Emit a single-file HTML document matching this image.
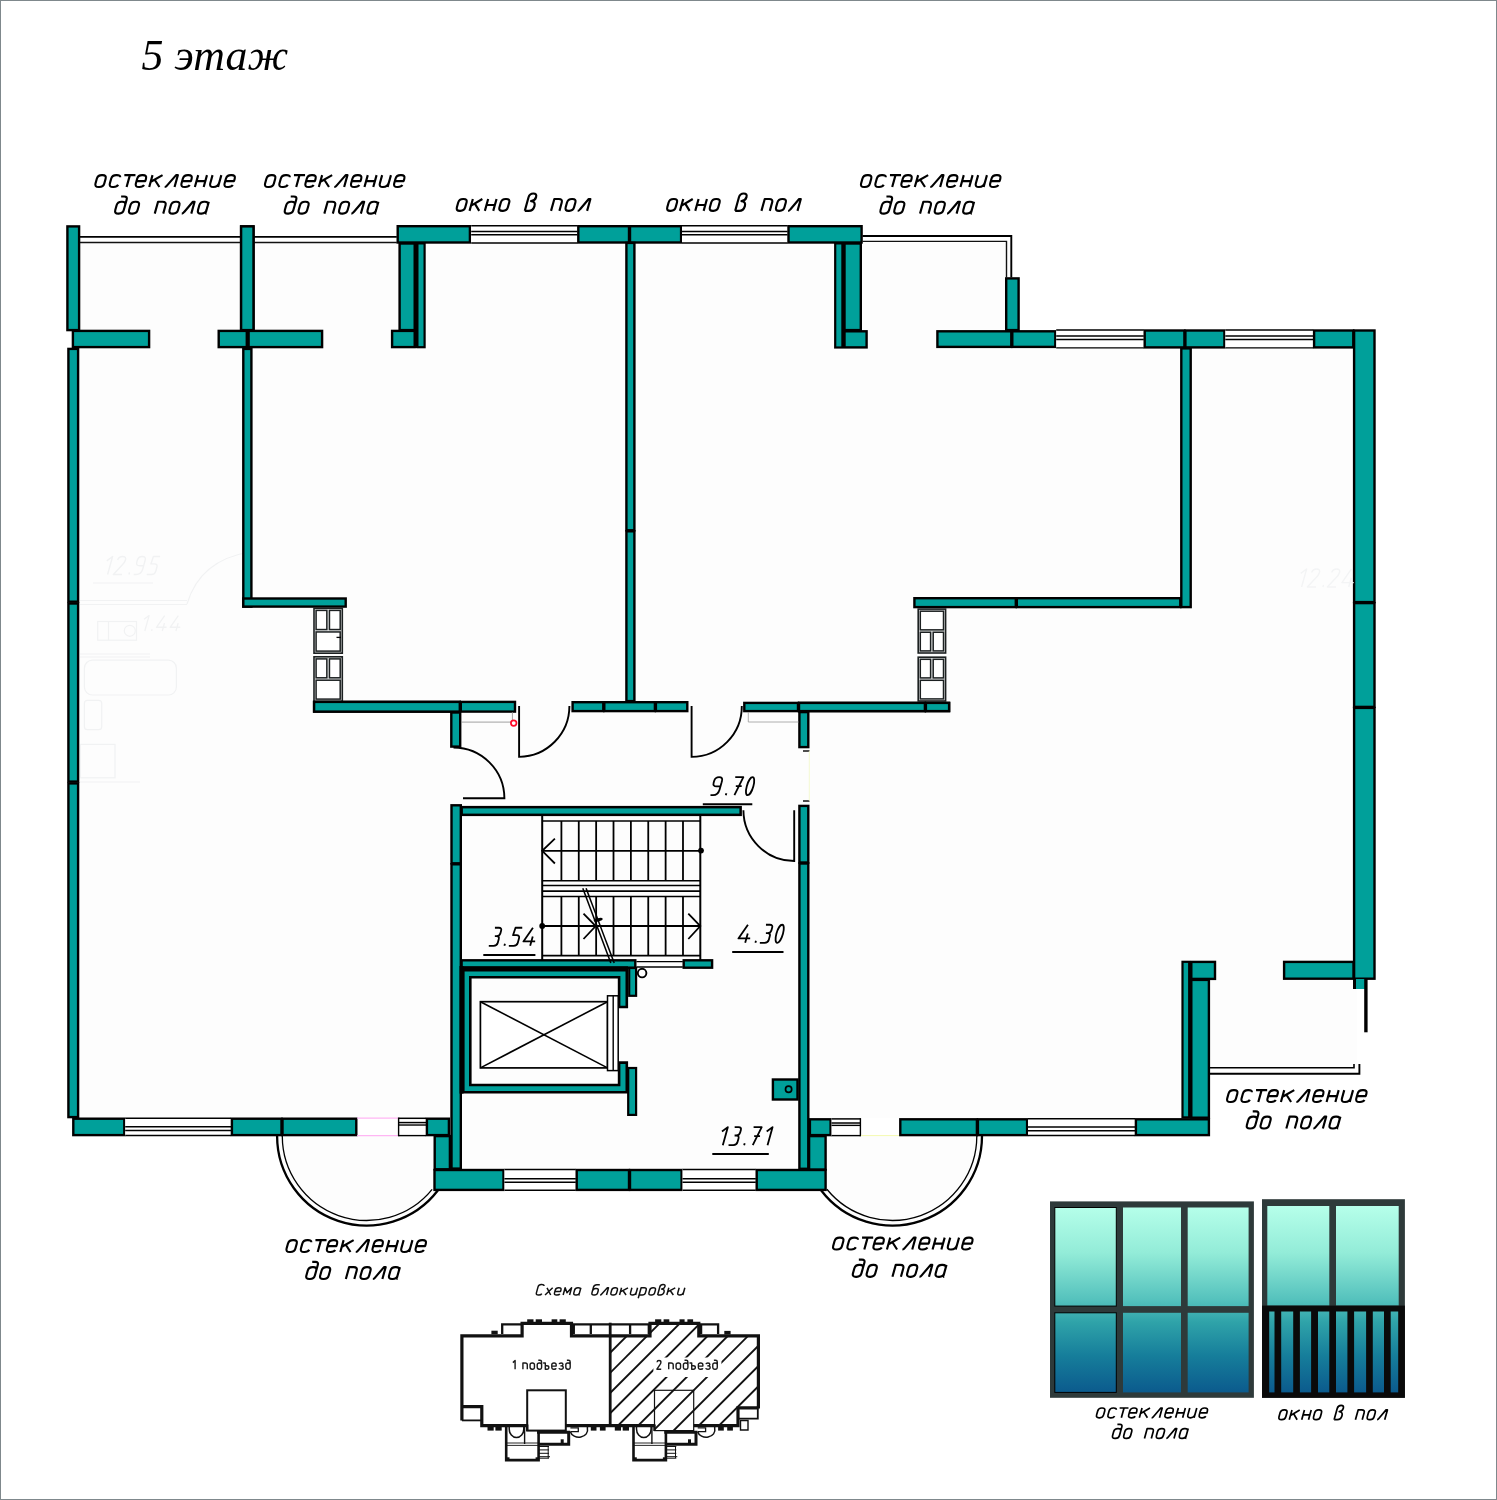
<!DOCTYPE html>
<html><head><meta charset="utf-8"><title>5 этаж</title>
<style>
html,body{margin:0;padding:0;background:#fff;}
body{width:1497px;height:1500px;overflow:hidden;font-family:"Liberation Sans",sans-serif;}
svg{display:block;}
</style></head><body>
<svg width="1497" height="1500" viewBox="0 0 1497 1500">
<rect x="0.5" y="0.5" width="1496" height="1499" fill="#fff" stroke="#7f888c" stroke-width="1"/>
<path d="M79 243 H1011 V331 H1354 V1070 H1210 V1118 H809 V1170 H450 V1118 H79 Z" fill="#fdfdfd"/>
<path d="M277 1136 A89.6 89.6 0 0 0 438 1190 V1136 Z" fill="#fdfdfd"/>
<path d="M982 1136 A89.6 89.6 0 0 1 821 1190 V1136 Z" fill="#fdfdfd"/>
<path d="M1210 1070 H1357 V980 H1210 Z" fill="#fdfdfd"/>
<g fill="none" stroke="#f1f2f3" stroke-width="1.2"><path d="M80 600.5 H187 M80 604.5 H187"/><rect x="97.7" y="621.5" width="38.8" height="18.7"/><circle cx="129.8" cy="630.8" r="5.5"/><path d="M108.5 621.5 V640.2"/><rect x="84.4" y="660.2" width="92" height="34.8" rx="8"/><rect x="84.4" y="700.3" width="17.3" height="29.4" rx="3"/><rect x="80.3" y="744.4" width="34.7" height="33.4"/><path d="M80 654 H150 M80 657 H150 M80 782 H140"/><path d="M187 604 Q200 560 250 552"/><path d="M93 583 H153"/></g>
<rect x="67.40" y="226.40" width="11.70" height="103.70" fill="#00a09a" stroke="#000" stroke-width="2.4"/>
<rect x="72.90" y="330.90" width="76.20" height="16.20" fill="#00a09a" stroke="#000" stroke-width="2.4"/>
<rect x="68.40" y="348.90" width="9.70" height="252.80" fill="#00a09a" stroke="#000" stroke-width="2.4"/>
<rect x="68.40" y="603.50" width="9.70" height="178.10" fill="#00a09a" stroke="#000" stroke-width="2.4"/>
<rect x="68.40" y="783.40" width="9.70" height="333.70" fill="#00a09a" stroke="#000" stroke-width="2.4"/>
<rect x="241.10" y="226.40" width="12.40" height="103.70" fill="#00a09a" stroke="#000" stroke-width="2.4"/>
<rect x="218.70" y="330.90" width="28.10" height="16.20" fill="#00a09a" stroke="#000" stroke-width="2.4"/>
<rect x="248.60" y="330.90" width="73.50" height="16.20" fill="#00a09a" stroke="#000" stroke-width="2.4"/>
<rect x="243.30" y="348.90" width="8.10" height="257.70" fill="#00a09a" stroke="#000" stroke-width="2.4"/>
<rect x="243.30" y="598.50" width="102.40" height="8.10" fill="#00a09a" stroke="#000" stroke-width="2.4"/>
<line x1="80.00" y1="236.80" x2="396.80" y2="236.80" stroke="#000" stroke-width="1.8" />
<line x1="80.00" y1="242.50" x2="396.80" y2="242.50" stroke="#111" stroke-width="1.4" />
<rect x="241.10" y="226.40" width="12.40" height="103.70" fill="#00a09a" stroke="#000" stroke-width="2.4"/>
<rect x="414" y="243" width="4" height="105" fill="#000"/>
<rect x="399.60" y="243.50" width="15.10" height="86.60" fill="#00a09a" stroke="#000" stroke-width="2.4"/>
<rect x="417.40" y="243.40" width="7.20" height="103.80" fill="#00a09a" stroke="#000" stroke-width="2.2"/>
<rect x="392.10" y="330.90" width="22.60" height="16.20" fill="#00a09a" stroke="#000" stroke-width="2.4"/>
<rect x="397.70" y="226.20" width="72.20" height="16.30" fill="#00a09a" stroke="#000" stroke-width="2.4"/>
<rect x="471.20" y="225.00" width="106.20" height="18.70" fill="#fff"/>
<line x1="471.20" y1="225.80" x2="577.40" y2="225.80" stroke="#000" stroke-width="1.5" />
<line x1="471.20" y1="231.55" x2="577.40" y2="231.55" stroke="#000" stroke-width="1.5" />
<line x1="471.20" y1="234.82" x2="577.40" y2="234.82" stroke="#000" stroke-width="1.4" />
<line x1="471.20" y1="243.00" x2="577.40" y2="243.00" stroke="#000" stroke-width="1.4" />
<rect x="578.30" y="226.20" width="50.70" height="16.30" fill="#00a09a" stroke="#000" stroke-width="2.4"/>
<rect x="630.00" y="226.20" width="51.10" height="16.30" fill="#00a09a" stroke="#000" stroke-width="2.4"/>
<rect x="682.00" y="225.00" width="105.60" height="18.70" fill="#fff"/>
<line x1="682.00" y1="225.80" x2="787.60" y2="225.80" stroke="#000" stroke-width="1.5" />
<line x1="682.00" y1="231.55" x2="787.60" y2="231.55" stroke="#000" stroke-width="1.5" />
<line x1="682.00" y1="234.82" x2="787.60" y2="234.82" stroke="#000" stroke-width="1.4" />
<line x1="682.00" y1="243.00" x2="787.60" y2="243.00" stroke="#000" stroke-width="1.4" />
<rect x="626.40" y="242.90" width="8.00" height="287.40" fill="#00a09a" stroke="#000" stroke-width="2.4"/>
<rect x="626.40" y="531.30" width="8.00" height="169.80" fill="#00a09a" stroke="#000" stroke-width="2.4"/>
<rect x="841" y="243" width="4" height="105" fill="#000"/>
<rect x="835.20" y="243.40" width="7.20" height="104.10" fill="#00a09a" stroke="#000" stroke-width="2.2"/>
<rect x="844.50" y="243.50" width="16.30" height="86.60" fill="#00a09a" stroke="#000" stroke-width="2.4"/>
<rect x="844.50" y="331.30" width="22.10" height="16.10" fill="#00a09a" stroke="#000" stroke-width="2.4"/>
<rect x="788.50" y="226.20" width="73.10" height="16.30" fill="#00a09a" stroke="#000" stroke-width="2.4"/>
<path d="M862.5 236 H1011.3 V277.5" fill="none" stroke="#000" stroke-width="1.9"/>
<path d="M862.5 241.4 H1006.5 V277.5" fill="none" stroke="#111" stroke-width="1.4"/>
<rect x="1006.20" y="278.40" width="12.40" height="51.70" fill="#00a09a" stroke="#000" stroke-width="2.4"/>
<rect x="937.40" y="331.30" width="73.90" height="15.60" fill="#00a09a" stroke="#000" stroke-width="2.4"/>
<rect x="1012.30" y="331.30" width="43.00" height="15.60" fill="#00a09a" stroke="#000" stroke-width="2.4"/>
<rect x="1056.20" y="329.30" width="87.60" height="19.30" fill="#fff"/>
<line x1="1056.20" y1="330.10" x2="1143.80" y2="330.10" stroke="#000" stroke-width="1.5" />
<line x1="1056.20" y1="336.06" x2="1143.80" y2="336.06" stroke="#000" stroke-width="1.5" />
<line x1="1056.20" y1="339.43" x2="1143.80" y2="339.43" stroke="#000" stroke-width="1.4" />
<line x1="1056.20" y1="347.90" x2="1143.80" y2="347.90" stroke="#000" stroke-width="1.4" />
<rect x="1144.70" y="330.50" width="39.70" height="16.90" fill="#00a09a" stroke="#000" stroke-width="2.4"/>
<rect x="1185.40" y="330.50" width="39.00" height="16.90" fill="#00a09a" stroke="#000" stroke-width="2.4"/>
<rect x="1225.30" y="329.30" width="87.90" height="19.30" fill="#fff"/>
<line x1="1225.30" y1="330.10" x2="1313.20" y2="330.10" stroke="#000" stroke-width="1.5" />
<line x1="1225.30" y1="336.06" x2="1313.20" y2="336.06" stroke="#000" stroke-width="1.5" />
<line x1="1225.30" y1="339.43" x2="1313.20" y2="339.43" stroke="#000" stroke-width="1.4" />
<line x1="1225.30" y1="347.90" x2="1313.20" y2="347.90" stroke="#000" stroke-width="1.4" />
<rect x="1314.10" y="330.50" width="39.20" height="16.90" fill="#00a09a" stroke="#000" stroke-width="2.4"/>
<rect x="1354.10" y="330.50" width="20.40" height="271.60" fill="#00a09a" stroke="#000" stroke-width="2.4"/>
<rect x="1354.10" y="603.10" width="20.40" height="103.80" fill="#00a09a" stroke="#000" stroke-width="2.4"/>
<rect x="1354.10" y="707.90" width="20.40" height="270.80" fill="#00a09a" stroke="#000" stroke-width="2.4"/>
<rect x="1181.30" y="348.40" width="9.40" height="258.70" fill="#00a09a" stroke="#000" stroke-width="2.4"/>
<rect x="914.40" y="598.20" width="101.40" height="8.90" fill="#00a09a" stroke="#000" stroke-width="2.4"/>
<rect x="1016.80" y="598.20" width="163.50" height="8.90" fill="#00a09a" stroke="#000" stroke-width="2.4"/>
<rect x="314.10" y="701.90" width="145.70" height="9.70" fill="#00a09a" stroke="#000" stroke-width="2.4"/>
<rect x="460.80" y="701.90" width="54.20" height="9.70" fill="#00a09a" stroke="#000" stroke-width="2.4"/>
<rect x="451.30" y="712.50" width="8.90" height="34.10" fill="#00a09a" stroke="#000" stroke-width="2.4"/>
<rect x="572.60" y="702.20" width="30.70" height="8.90" fill="#00a09a" stroke="#000" stroke-width="2.4"/>
<rect x="604.30" y="702.20" width="50.60" height="8.90" fill="#00a09a" stroke="#000" stroke-width="2.4"/>
<rect x="655.90" y="702.20" width="31.40" height="8.90" fill="#00a09a" stroke="#000" stroke-width="2.4"/>
<rect x="744.30" y="702.90" width="53.70" height="8.20" fill="#00a09a" stroke="#000" stroke-width="2.4"/>
<rect x="799.00" y="702.90" width="125.90" height="8.20" fill="#00a09a" stroke="#000" stroke-width="2.4"/>
<rect x="925.90" y="702.90" width="23.20" height="8.20" fill="#00a09a" stroke="#000" stroke-width="2.4"/>
<rect x="799.40" y="712.10" width="8.90" height="35.00" fill="#00a09a" stroke="#000" stroke-width="2.4"/>
<rect x="799.40" y="805.90" width="8.90" height="56.60" fill="#00a09a" stroke="#000" stroke-width="2.4"/>
<rect x="799.40" y="863.50" width="8.90" height="305.30" fill="#00a09a" stroke="#000" stroke-width="2.4"/>
<rect x="451.50" y="805.30" width="9.30" height="58.00" fill="#00a09a" stroke="#000" stroke-width="2.4"/>
<rect x="451.50" y="864.30" width="9.30" height="304.30" fill="#00a09a" stroke="#000" stroke-width="2.4"/>
<rect x="461.65" y="807.15" width="279.00" height="7.70" fill="#00a09a" stroke="#000" stroke-width="2.5"/>
<rect x="461.60" y="960.30" width="173.70" height="7.40" fill="#00a09a" stroke="#000" stroke-width="2.4"/>
<rect x="683.70" y="960.30" width="28.40" height="7.40" fill="#00a09a" stroke="#000" stroke-width="2.4"/>
<path d="M463.3 970.3 H626.8 V1007 H619.1 V977.2 H470.3 V1085 H619.1 V1062.6 H626.8 V1092.3 H463.3 Z" fill="#00a09a" stroke="#000" stroke-width="2.6" stroke-linejoin="miter"/>
<rect x="461" y="966.3" width="167" height="4.2" fill="#000"/>
<rect x="459.5" y="966" width="4" height="127.6" fill="#000"/>
<rect x="629.20" y="968.00" width="6.90" height="27.80" fill="#00a09a" stroke="#000" stroke-width="2.2"/>
<rect x="628.20" y="1068.00" width="7.90" height="46.90" fill="#00a09a" stroke="#000" stroke-width="2.2"/>
<rect x="480.40" y="1001.70" width="127.10" height="66.20" fill="#fff" stroke="#000" stroke-width="1.7"/>
<line x1="480.40" y1="1001.70" x2="607.50" y2="1067.90" stroke="#000" stroke-width="1.6" />
<line x1="480.40" y1="1067.90" x2="607.50" y2="1001.70" stroke="#000" stroke-width="1.6" />
<rect x="607.50" y="995.80" width="10.70" height="74.80" fill="#fff" stroke="#000" stroke-width="1.5"/>
<line x1="613.20" y1="995.80" x2="613.20" y2="1070.60" stroke="#000" stroke-width="1.4" />
<circle cx="642.1" cy="973.1" r="4.3" fill="#fff" stroke="#000" stroke-width="1.9"/>
<line x1="636.40" y1="961.60" x2="682.80" y2="961.60" stroke="#000" stroke-width="1.3" />
<line x1="636.40" y1="967.00" x2="682.80" y2="967.00" stroke="#000" stroke-width="1.3" />
<line x1="542.20" y1="816.00" x2="542.20" y2="960.00" stroke="#000" stroke-width="2.0" />
<line x1="700.30" y1="816.00" x2="700.30" y2="960.00" stroke="#000" stroke-width="2.0" />
<line x1="542.20" y1="821.00" x2="700.30" y2="821.00" stroke="#000" stroke-width="1.6" />
<line x1="542.20" y1="880.80" x2="700.30" y2="880.80" stroke="#000" stroke-width="1.6" />
<line x1="542.20" y1="885.50" x2="700.30" y2="885.50" stroke="#000" stroke-width="1.6" />
<line x1="542.20" y1="891.10" x2="700.30" y2="891.10" stroke="#000" stroke-width="1.6" />
<line x1="542.20" y1="896.50" x2="700.30" y2="896.50" stroke="#000" stroke-width="1.6" />
<line x1="542.20" y1="955.60" x2="700.30" y2="955.60" stroke="#000" stroke-width="1.6" />
<line x1="542.20" y1="850.80" x2="700.30" y2="850.80" stroke="#000" stroke-width="1.8" />
<line x1="542.20" y1="926.00" x2="700.30" y2="926.00" stroke="#000" stroke-width="1.8" />
<line x1="561.40" y1="821.00" x2="561.40" y2="880.80" stroke="#000" stroke-width="1.8" />
<line x1="561.40" y1="896.50" x2="561.40" y2="955.60" stroke="#000" stroke-width="1.8" />
<line x1="578.77" y1="821.00" x2="578.77" y2="880.80" stroke="#000" stroke-width="1.8" />
<line x1="578.77" y1="896.50" x2="578.77" y2="955.60" stroke="#000" stroke-width="1.8" />
<line x1="596.14" y1="821.00" x2="596.14" y2="880.80" stroke="#000" stroke-width="1.8" />
<line x1="596.14" y1="896.50" x2="596.14" y2="955.60" stroke="#000" stroke-width="1.8" />
<line x1="613.51" y1="821.00" x2="613.51" y2="880.80" stroke="#000" stroke-width="1.8" />
<line x1="613.51" y1="896.50" x2="613.51" y2="955.60" stroke="#000" stroke-width="1.8" />
<line x1="630.88" y1="821.00" x2="630.88" y2="880.80" stroke="#000" stroke-width="1.8" />
<line x1="630.88" y1="896.50" x2="630.88" y2="955.60" stroke="#000" stroke-width="1.8" />
<line x1="648.25" y1="821.00" x2="648.25" y2="880.80" stroke="#000" stroke-width="1.8" />
<line x1="648.25" y1="896.50" x2="648.25" y2="955.60" stroke="#000" stroke-width="1.8" />
<line x1="665.62" y1="821.00" x2="665.62" y2="880.80" stroke="#000" stroke-width="1.8" />
<line x1="665.62" y1="896.50" x2="665.62" y2="955.60" stroke="#000" stroke-width="1.8" />
<line x1="682.99" y1="821.00" x2="682.99" y2="880.80" stroke="#000" stroke-width="1.8" />
<line x1="682.99" y1="896.50" x2="682.99" y2="955.60" stroke="#000" stroke-width="1.8" />
<path d="M554.9 838.6 L542.2 850.8 L554.9 863.5" fill="none" stroke="#000" stroke-width="1.8"/>
<path d="M688.3 913.6 L700.3 926 L688.3 939" fill="none" stroke="#000" stroke-width="1.8"/>
<path d="M583.5 913.6 L595.7 926 L583.5 939" fill="none" stroke="#000" stroke-width="1.8"/>
<circle cx="542.2" cy="926" r="2.9" fill="#000"/>
<circle cx="701" cy="850.6" r="2.9" fill="#000"/>
<line x1="582.80" y1="888.20" x2="610.80" y2="963.00" stroke="#000" stroke-width="1.5" />
<line x1="586.10" y1="888.20" x2="614.20" y2="963.00" stroke="#000" stroke-width="1.5" />
<ellipse cx="598.2" cy="919.8" rx="4.6" ry="1.7" fill="#000" transform="rotate(-12 598.2 919.8)"/>
<path d="M519.1 706 V756.9 A50.9 50.9 0 0 0 569.4 706" fill="none" stroke="#000" stroke-width="1.9"/>
<path d="M691.6 706 V756.9 A50.5 50.5 0 0 0 741.8 706" fill="none" stroke="#000" stroke-width="1.9"/>
<path d="M463 798.3 H504.4 A51 51 0 0 0 453.5 747.5" fill="none" stroke="#000" stroke-width="1.9"/>
<path d="M794.2 810.3 V861 A51 51 0 0 1 743.4 810.3" fill="none" stroke="#000" stroke-width="1.9"/>
<path d="M461 722.1 H512.4 V712" fill="none" stroke="#8a8a8a" stroke-width="0.8"/>
<circle cx="513.7" cy="723.1" r="2.8" fill="#fff" stroke="#ff0a28" stroke-width="1.7"/>
<path d="M748.3 712 V722 H798.5" fill="none" stroke="#9a9a9a" stroke-width="0.8"/>
<line x1="803.00" y1="751.00" x2="809.50" y2="751.00" stroke="#000" stroke-width="1.4" />
<line x1="803.00" y1="801.00" x2="809.50" y2="801.00" stroke="#000" stroke-width="1.4" />
<line x1="809.30" y1="751.00" x2="809.30" y2="801.00" stroke="#f3f9c8" stroke-width="0.8" />
<rect x="314.00" y="608.30" width="28.30" height="44.90" fill="#e9ebeb" stroke="#1c2021" stroke-width="1.6"/>
<rect x="316.10" y="610.40" width="10.75" height="19.15" fill="#fff" stroke="#1c2021" stroke-width="1.5"/>
<rect x="329.45" y="610.40" width="10.75" height="19.15" fill="#fff" stroke="#1c2021" stroke-width="1.5"/>
<rect x="316.10" y="631.95" width="24.10" height="19.15" fill="#fff" stroke="#1c2021" stroke-width="1.5"/>
<rect x="314.00" y="656.80" width="28.30" height="44.40" fill="#e9ebeb" stroke="#1c2021" stroke-width="1.6"/>
<rect x="316.10" y="658.90" width="10.75" height="18.90" fill="#fff" stroke="#1c2021" stroke-width="1.5"/>
<rect x="329.45" y="658.90" width="10.75" height="18.90" fill="#fff" stroke="#1c2021" stroke-width="1.5"/>
<rect x="316.10" y="680.20" width="24.10" height="18.90" fill="#fff" stroke="#1c2021" stroke-width="1.5"/>
<line x1="336.50" y1="637.40" x2="341.00" y2="637.40" stroke="#000" stroke-width="1.3" />
<rect x="918.20" y="609.10" width="27.40" height="43.90" fill="#e9ebeb" stroke="#1c2021" stroke-width="1.6"/>
<rect x="920.30" y="611.20" width="23.20" height="18.65" fill="#fff" stroke="#1c2021" stroke-width="1.5"/>
<rect x="920.30" y="632.25" width="10.30" height="18.65" fill="#fff" stroke="#1c2021" stroke-width="1.5"/>
<rect x="933.20" y="632.25" width="10.30" height="18.65" fill="#fff" stroke="#1c2021" stroke-width="1.5"/>
<rect x="918.20" y="657.20" width="27.40" height="43.80" fill="#e9ebeb" stroke="#1c2021" stroke-width="1.6"/>
<rect x="920.30" y="659.30" width="10.30" height="18.60" fill="#fff" stroke="#1c2021" stroke-width="1.5"/>
<rect x="933.20" y="659.30" width="10.30" height="18.60" fill="#fff" stroke="#1c2021" stroke-width="1.5"/>
<rect x="920.30" y="680.30" width="23.20" height="18.60" fill="#fff" stroke="#1c2021" stroke-width="1.5"/>
<rect x="314.10" y="701.90" width="145.70" height="9.70" fill="#00a09a" stroke="#000" stroke-width="2.4"/>
<rect x="799.00" y="702.90" width="125.90" height="8.20" fill="#00a09a" stroke="#000" stroke-width="2.4"/>
<rect x="925.90" y="702.90" width="23.20" height="8.20" fill="#00a09a" stroke="#000" stroke-width="2.4"/>
<rect x="73.30" y="1118.70" width="51.00" height="16.40" fill="#00a09a" stroke="#000" stroke-width="2.4"/>
<rect x="125.20" y="1117.50" width="105.80" height="18.80" fill="#fff"/>
<line x1="125.20" y1="1135.50" x2="231.00" y2="1135.50" stroke="#000" stroke-width="1.5" />
<line x1="125.20" y1="1130.47" x2="231.00" y2="1130.47" stroke="#000" stroke-width="1.5" />
<line x1="125.20" y1="1126.71" x2="231.00" y2="1126.71" stroke="#000" stroke-width="1.4" />
<line x1="125.20" y1="1118.20" x2="231.00" y2="1118.20" stroke="#000" stroke-width="1.4" />
<rect x="231.90" y="1118.70" width="49.60" height="16.40" fill="#00a09a" stroke="#000" stroke-width="2.4"/>
<rect x="282.50" y="1118.70" width="73.80" height="16.40" fill="#00a09a" stroke="#000" stroke-width="2.4"/>
<line x1="357.20" y1="1118.20" x2="398.00" y2="1118.20" stroke="#ffb6f4" stroke-width="1.2" />
<line x1="357.20" y1="1135.60" x2="398.00" y2="1135.60" stroke="#ffb6f4" stroke-width="1.2" />
<rect x="398.60" y="1117.50" width="27.40" height="18.80" fill="#fff"/>
<line x1="398.60" y1="1118.30" x2="426.00" y2="1118.30" stroke="#000" stroke-width="1.5" />
<line x1="398.60" y1="1122.58" x2="426.00" y2="1122.58" stroke="#000" stroke-width="1.5" />
<line x1="398.60" y1="1125.02" x2="426.00" y2="1125.02" stroke="#000" stroke-width="1.4" />
<line x1="398.60" y1="1135.60" x2="426.00" y2="1135.60" stroke="#000" stroke-width="1.4" />
<line x1="398.60" y1="1117.50" x2="398.60" y2="1136.30" stroke="#000" stroke-width="1.4" />
<rect x="426.90" y="1118.70" width="22.00" height="16.40" fill="#00a09a" stroke="#000" stroke-width="2.4"/>
<rect x="434.70" y="1136.10" width="15.20" height="33.20" fill="#00a09a" stroke="#000" stroke-width="2.4"/>
<rect x="434.50" y="1170.00" width="69.00" height="19.90" fill="#00a09a" stroke="#000" stroke-width="2.4"/>
<rect x="504.40" y="1168.80" width="71.40" height="22.30" fill="#fff"/>
<line x1="504.40" y1="1190.30" x2="575.80" y2="1190.30" stroke="#000" stroke-width="1.5" />
<line x1="504.40" y1="1182.18" x2="575.80" y2="1182.18" stroke="#000" stroke-width="1.5" />
<line x1="504.40" y1="1178.70" x2="575.80" y2="1178.70" stroke="#000" stroke-width="1.4" />
<line x1="504.40" y1="1169.50" x2="575.80" y2="1169.50" stroke="#000" stroke-width="1.4" />
<rect x="576.70" y="1170.00" width="52.30" height="19.90" fill="#00a09a" stroke="#000" stroke-width="2.4"/>
<rect x="630.00" y="1170.00" width="51.60" height="19.90" fill="#00a09a" stroke="#000" stroke-width="2.4"/>
<rect x="682.50" y="1168.80" width="73.30" height="22.30" fill="#fff"/>
<line x1="682.50" y1="1190.30" x2="755.80" y2="1190.30" stroke="#000" stroke-width="1.5" />
<line x1="682.50" y1="1182.18" x2="755.80" y2="1182.18" stroke="#000" stroke-width="1.5" />
<line x1="682.50" y1="1178.70" x2="755.80" y2="1178.70" stroke="#000" stroke-width="1.4" />
<line x1="682.50" y1="1169.50" x2="755.80" y2="1169.50" stroke="#000" stroke-width="1.4" />
<rect x="756.70" y="1170.00" width="68.90" height="19.90" fill="#00a09a" stroke="#000" stroke-width="2.4"/>
<rect x="809.10" y="1136.10" width="16.50" height="33.40" fill="#00a09a" stroke="#000" stroke-width="2.4"/>
<rect x="809.90" y="1119.30" width="20.70" height="15.80" fill="#00a09a" stroke="#000" stroke-width="2.4"/>
<rect x="831.50" y="1118.10" width="28.90" height="18.20" fill="#fff"/>
<line x1="831.50" y1="1118.90" x2="860.40" y2="1118.90" stroke="#000" stroke-width="1.5" />
<line x1="831.50" y1="1123.01" x2="860.40" y2="1123.01" stroke="#000" stroke-width="1.5" />
<line x1="831.50" y1="1125.38" x2="860.40" y2="1125.38" stroke="#000" stroke-width="1.4" />
<line x1="831.50" y1="1135.60" x2="860.40" y2="1135.60" stroke="#000" stroke-width="1.4" />
<line x1="860.40" y1="1118.10" x2="860.40" y2="1136.30" stroke="#000" stroke-width="1.4" />
<line x1="861.00" y1="1135.60" x2="899.40" y2="1135.60" stroke="#f4fab0" stroke-width="1.0" />
<rect x="900.30" y="1119.30" width="76.60" height="15.80" fill="#00a09a" stroke="#000" stroke-width="2.4"/>
<rect x="977.90" y="1119.30" width="49.20" height="15.80" fill="#00a09a" stroke="#000" stroke-width="2.4"/>
<rect x="1028.00" y="1118.10" width="107.00" height="18.20" fill="#fff"/>
<line x1="1028.00" y1="1135.50" x2="1135.00" y2="1135.50" stroke="#000" stroke-width="1.5" />
<line x1="1028.00" y1="1130.66" x2="1135.00" y2="1130.66" stroke="#000" stroke-width="1.5" />
<line x1="1028.00" y1="1127.02" x2="1135.00" y2="1127.02" stroke="#000" stroke-width="1.4" />
<line x1="1028.00" y1="1118.80" x2="1135.00" y2="1118.80" stroke="#000" stroke-width="1.4" />
<rect x="1135.90" y="1119.30" width="73.00" height="15.80" fill="#00a09a" stroke="#000" stroke-width="2.4"/>
<rect x="772.90" y="1079.50" width="24.60" height="20.00" fill="#00a09a" stroke="#000" stroke-width="2.4"/>
<circle cx="788.6" cy="1089.2" r="3.1" fill="none" stroke="#000" stroke-width="1.7"/>
<rect x="1188" y="961" width="4" height="157" fill="#000"/>
<rect x="1182.50" y="961.80" width="6.70" height="155.60" fill="#00a09a" stroke="#000" stroke-width="2.2"/>
<rect x="1191.30" y="979.90" width="17.60" height="137.80" fill="#00a09a" stroke="#000" stroke-width="2.4"/>
<rect x="1191.30" y="961.90" width="23.70" height="17.00" fill="#00a09a" stroke="#000" stroke-width="2.4"/>
<rect x="1284.10" y="961.90" width="69.40" height="16.80" fill="#00a09a" stroke="#000" stroke-width="2.4"/>
<rect x="1354" y="979" width="11.5" height="10" fill="#00a09a"/>
<line x1="1365.90" y1="979.00" x2="1365.90" y2="1032.30" stroke="#000" stroke-width="3.4" />
<line x1="1354.50" y1="979.00" x2="1354.50" y2="989.00" stroke="#000" stroke-width="3.0" />
<path d="M1209.8 1073.7 H1359.4 V1064" fill="none" stroke="#000" stroke-width="1.9"/>
<path d="M1209.8 1067.8 H1354 V1064" fill="none" stroke="#000" stroke-width="1.6"/>
<path d="M277.10 1136.00 A89.6 89.6 0 0 0 437.96 1190.31" fill="none" stroke="#000" stroke-width="2.3"/>
<path d="M282.30 1136.00 A84.4 84.4 0 0 0 432.15 1189.29" fill="none" stroke="#000" stroke-width="1.3"/>
<path d="M982.00 1136.00 A89.6 89.6 0 0 1 821.07 1190.22" fill="none" stroke="#000" stroke-width="2.3"/>
<path d="M976.80 1136.00 A84.4 84.4 0 0 1 826.91 1189.24" fill="none" stroke="#000" stroke-width="1.3"/>
<g transform="translate(102.00 574.50) skewX(-15.5) scale(1.4000 1.2900)" fill="none" stroke="#f1f2f3" stroke-width="1.4" stroke-linejoin="round" stroke-linecap="butt"><path vector-effect="non-scaling-stroke" transform="translate(0.00 0)" d="M0.7 -10.6 L4 -14 V0"/><path vector-effect="non-scaling-stroke" transform="translate(8.10 0)" d="M0.2 -11.2 Q0.4 -14 3 -14 Q5.8 -14 5.8 -11.2 Q5.8 -9 4.2 -7 L0 0 H6.2"/><path vector-effect="non-scaling-stroke" transform="translate(17.64 0)" d="M1.6 -1.6 V0"/><path vector-effect="non-scaling-stroke" transform="translate(22.41 0)" d="M5.6 -9.4 V-11 Q5.6 -14 2.8 -14 Q0 -14 0 -11 V-9.6 Q0 -6.8 2.8 -6.8 H5.6 M5.6 -11 V-4.4 Q5.6 0 2 0 H0.2"/><path vector-effect="non-scaling-stroke" transform="translate(31.95 0)" d="M6 -14 H1.2 L0.9 -8.2 H3.4 Q5.8 -8.2 5.8 -5.8 V-2.4 Q5.8 0 3.4 0 H0"/></g>
<g transform="translate(140.00 631.00) skewX(-15.5) scale(1.2000 1.1000)" fill="none" stroke="#f1f2f3" stroke-width="1.3" stroke-linejoin="round" stroke-linecap="butt"><path vector-effect="non-scaling-stroke" transform="translate(0.00 0)" d="M0.7 -10.6 L4 -14 V0"/><path vector-effect="non-scaling-stroke" transform="translate(8.10 0)" d="M1.6 -1.6 V0"/><path vector-effect="non-scaling-stroke" transform="translate(12.87 0)" d="M4.1 -14 L0 -3.4 H8.4 M5.7 -7.2 V0"/><path vector-effect="non-scaling-stroke" transform="translate(24.27 0)" d="M4.1 -14 L0 -3.4 H8.4 M5.7 -7.2 V0"/></g>
<g transform="translate(1296.00 587.00) skewX(-15.5) scale(1.4000 1.2900)" fill="none" stroke="#f3f4f5" stroke-width="1.4" stroke-linejoin="round" stroke-linecap="butt"><path vector-effect="non-scaling-stroke" transform="translate(0.00 0)" d="M0.7 -10.6 L4 -14 V0"/><path vector-effect="non-scaling-stroke" transform="translate(8.10 0)" d="M0.2 -11.2 Q0.4 -14 3 -14 Q5.8 -14 5.8 -11.2 Q5.8 -9 4.2 -7 L0 0 H6.2"/><path vector-effect="non-scaling-stroke" transform="translate(17.64 0)" d="M1.6 -1.6 V0"/><path vector-effect="non-scaling-stroke" transform="translate(22.41 0)" d="M0.2 -11.2 Q0.4 -14 3 -14 Q5.8 -14 5.8 -11.2 Q5.8 -9 4.2 -7 L0 0 H6.2"/><path vector-effect="non-scaling-stroke" transform="translate(31.95 0)" d="M4.1 -14 L0 -3.4 H8.4 M5.7 -7.2 V0"/></g>
<defs><filter id="gray" x="-5%" y="-20%" width="110%" height="140%"><feColorMatrix type="saturate" values="0"/></filter></defs>
<g filter="url(#gray)">
<text x="141.60" y="69.80" font-family="'Liberation Serif', sans-serif" font-size="44.3" font-style="italic" font-weight="normal" text-anchor="start" fill="#000" textLength="146.6" lengthAdjust="spacingAndGlyphs" >5 этаж</text>
</g>
<g transform="translate(94.50 187.00) skewX(-15.5) scale(1.3546 1.1900)" fill="none" stroke="#000" stroke-width="2.15" stroke-linejoin="round" stroke-linecap="butt"><path vector-effect="non-scaling-stroke" transform="translate(0.00 0)" d="M0 -3 V-7 Q0 -10 3 -10 H3.5 Q6.5 -10 6.5 -7 V-3 Q6.5 0 3.5 0 H3 Q0 0 0 -3 Z"/><path vector-effect="non-scaling-stroke" transform="translate(10.60 0)" d="M6.4 -8.2 Q6 -10 3.5 -10 H3 Q0 -10 0 -7 V-3 Q0 0 3 0 H3.5 Q6 0 6.4 -1.8"/><path vector-effect="non-scaling-stroke" transform="translate(20.00 0)" d="M-0.4 -10 H7.8 M3.7 -10 V0"/><path vector-effect="non-scaling-stroke" transform="translate(29.80 0)" d="M0 -5 H6.5 V-7 Q6.5 -10 3.5 -10 H3 Q0 -10 0 -7 V-3 Q0 0 3 0 H3.5 Q6 0 6.4 -1.6"/><path vector-effect="non-scaling-stroke" transform="translate(40.40 0)" d="M0 -10 V0 M7.4 -10 L0.4 -4.6 M2.4 -6.3 L7.5 0"/><path vector-effect="non-scaling-stroke" transform="translate(52.30 0)" d="M-0.5 0 Q0.5 0 1 -1.4 L5.5 -10 H6.8 V0"/><path vector-effect="non-scaling-stroke" transform="translate(63.50 0)" d="M0 -5 H6.5 V-7 Q6.5 -10 3.5 -10 H3 Q0 -10 0 -7 V-3 Q0 0 3 0 H3.5 Q6 0 6.4 -1.6"/><path vector-effect="non-scaling-stroke" transform="translate(74.10 0)" d="M0 -10 V0 M0 -5 H6.5 M6.5 -10 V0"/><path vector-effect="non-scaling-stroke" transform="translate(84.70 0)" d="M0 -10 V-3 Q0 0 3 0 Q6.5 0 6.5 -4 M6.5 -10 V0"/><path vector-effect="non-scaling-stroke" transform="translate(95.30 0)" d="M0 -5 H6.5 V-7 Q6.5 -10 3.5 -10 H3 Q0 -10 0 -7 V-3 Q0 0 3 0 H3.5 Q6 0 6.4 -1.6"/></g>
<g transform="translate(114.30 213.60) skewX(-15.5) scale(1.3048 1.1900)" fill="none" stroke="#000" stroke-width="2.15" stroke-linejoin="round" stroke-linecap="butt"><path vector-effect="non-scaling-stroke" transform="translate(0.00 0)" d="M0 -3 V-7 Q0 -10 3 -10 H3.5 Q6.5 -10 6.5 -7 V-3 Q6.5 0 3.5 0 H3 Q0 0 0 -3 Z M6.5 -7 V-11.8 Q6.5 -14.4 4 -14.4 H1.6"/><path vector-effect="non-scaling-stroke" transform="translate(10.60 0)" d="M0 -3 V-7 Q0 -10 3 -10 H3.5 Q6.5 -10 6.5 -7 V-3 Q6.5 0 3.5 0 H3 Q0 0 0 -3 Z"/><path vector-effect="non-scaling-stroke" transform="translate(31.00 0)" d="M0 0 V-10 H3.5 Q6.5 -10 6.5 -7 V0"/><path vector-effect="non-scaling-stroke" transform="translate(41.60 0)" d="M0 -3 V-7 Q0 -10 3 -10 H3.5 Q6.5 -10 6.5 -7 V-3 Q6.5 0 3.5 0 H3 Q0 0 0 -3 Z"/><path vector-effect="non-scaling-stroke" transform="translate(52.20 0)" d="M-0.5 0 Q0.5 0 1 -1.4 L5.5 -10 H6.8 V0"/><path vector-effect="non-scaling-stroke" transform="translate(63.40 0)" d="M6.5 -7 Q6.5 -10 3.5 -10 H3 Q0 -10 0 -7 V-3 Q0 0 3 0 H3.5 Q6.5 0 6.5 -3 M6.5 -10 V-1.2 Q6.5 0 7.3 0"/></g>
<g transform="translate(264.10 187.00) skewX(-15.5) scale(1.3546 1.1900)" fill="none" stroke="#000" stroke-width="2.15" stroke-linejoin="round" stroke-linecap="butt"><path vector-effect="non-scaling-stroke" transform="translate(0.00 0)" d="M0 -3 V-7 Q0 -10 3 -10 H3.5 Q6.5 -10 6.5 -7 V-3 Q6.5 0 3.5 0 H3 Q0 0 0 -3 Z"/><path vector-effect="non-scaling-stroke" transform="translate(10.60 0)" d="M6.4 -8.2 Q6 -10 3.5 -10 H3 Q0 -10 0 -7 V-3 Q0 0 3 0 H3.5 Q6 0 6.4 -1.8"/><path vector-effect="non-scaling-stroke" transform="translate(20.00 0)" d="M-0.4 -10 H7.8 M3.7 -10 V0"/><path vector-effect="non-scaling-stroke" transform="translate(29.80 0)" d="M0 -5 H6.5 V-7 Q6.5 -10 3.5 -10 H3 Q0 -10 0 -7 V-3 Q0 0 3 0 H3.5 Q6 0 6.4 -1.6"/><path vector-effect="non-scaling-stroke" transform="translate(40.40 0)" d="M0 -10 V0 M7.4 -10 L0.4 -4.6 M2.4 -6.3 L7.5 0"/><path vector-effect="non-scaling-stroke" transform="translate(52.30 0)" d="M-0.5 0 Q0.5 0 1 -1.4 L5.5 -10 H6.8 V0"/><path vector-effect="non-scaling-stroke" transform="translate(63.50 0)" d="M0 -5 H6.5 V-7 Q6.5 -10 3.5 -10 H3 Q0 -10 0 -7 V-3 Q0 0 3 0 H3.5 Q6 0 6.4 -1.6"/><path vector-effect="non-scaling-stroke" transform="translate(74.10 0)" d="M0 -10 V0 M0 -5 H6.5 M6.5 -10 V0"/><path vector-effect="non-scaling-stroke" transform="translate(84.70 0)" d="M0 -10 V-3 Q0 0 3 0 Q6.5 0 6.5 -4 M6.5 -10 V0"/><path vector-effect="non-scaling-stroke" transform="translate(95.30 0)" d="M0 -5 H6.5 V-7 Q6.5 -10 3.5 -10 H3 Q0 -10 0 -7 V-3 Q0 0 3 0 H3.5 Q6 0 6.4 -1.6"/></g>
<g transform="translate(283.90 213.60) skewX(-15.5) scale(1.3048 1.1900)" fill="none" stroke="#000" stroke-width="2.15" stroke-linejoin="round" stroke-linecap="butt"><path vector-effect="non-scaling-stroke" transform="translate(0.00 0)" d="M0 -3 V-7 Q0 -10 3 -10 H3.5 Q6.5 -10 6.5 -7 V-3 Q6.5 0 3.5 0 H3 Q0 0 0 -3 Z M6.5 -7 V-11.8 Q6.5 -14.4 4 -14.4 H1.6"/><path vector-effect="non-scaling-stroke" transform="translate(10.60 0)" d="M0 -3 V-7 Q0 -10 3 -10 H3.5 Q6.5 -10 6.5 -7 V-3 Q6.5 0 3.5 0 H3 Q0 0 0 -3 Z"/><path vector-effect="non-scaling-stroke" transform="translate(31.00 0)" d="M0 0 V-10 H3.5 Q6.5 -10 6.5 -7 V0"/><path vector-effect="non-scaling-stroke" transform="translate(41.60 0)" d="M0 -3 V-7 Q0 -10 3 -10 H3.5 Q6.5 -10 6.5 -7 V-3 Q6.5 0 3.5 0 H3 Q0 0 0 -3 Z"/><path vector-effect="non-scaling-stroke" transform="translate(52.20 0)" d="M-0.5 0 Q0.5 0 1 -1.4 L5.5 -10 H6.8 V0"/><path vector-effect="non-scaling-stroke" transform="translate(63.40 0)" d="M6.5 -7 Q6.5 -10 3.5 -10 H3 Q0 -10 0 -7 V-3 Q0 0 3 0 H3.5 Q6.5 0 6.5 -3 M6.5 -10 V-1.2 Q6.5 0 7.3 0"/></g>
<g transform="translate(860.10 187.00) skewX(-15.5) scale(1.3546 1.1900)" fill="none" stroke="#000" stroke-width="2.15" stroke-linejoin="round" stroke-linecap="butt"><path vector-effect="non-scaling-stroke" transform="translate(0.00 0)" d="M0 -3 V-7 Q0 -10 3 -10 H3.5 Q6.5 -10 6.5 -7 V-3 Q6.5 0 3.5 0 H3 Q0 0 0 -3 Z"/><path vector-effect="non-scaling-stroke" transform="translate(10.60 0)" d="M6.4 -8.2 Q6 -10 3.5 -10 H3 Q0 -10 0 -7 V-3 Q0 0 3 0 H3.5 Q6 0 6.4 -1.8"/><path vector-effect="non-scaling-stroke" transform="translate(20.00 0)" d="M-0.4 -10 H7.8 M3.7 -10 V0"/><path vector-effect="non-scaling-stroke" transform="translate(29.80 0)" d="M0 -5 H6.5 V-7 Q6.5 -10 3.5 -10 H3 Q0 -10 0 -7 V-3 Q0 0 3 0 H3.5 Q6 0 6.4 -1.6"/><path vector-effect="non-scaling-stroke" transform="translate(40.40 0)" d="M0 -10 V0 M7.4 -10 L0.4 -4.6 M2.4 -6.3 L7.5 0"/><path vector-effect="non-scaling-stroke" transform="translate(52.30 0)" d="M-0.5 0 Q0.5 0 1 -1.4 L5.5 -10 H6.8 V0"/><path vector-effect="non-scaling-stroke" transform="translate(63.50 0)" d="M0 -5 H6.5 V-7 Q6.5 -10 3.5 -10 H3 Q0 -10 0 -7 V-3 Q0 0 3 0 H3.5 Q6 0 6.4 -1.6"/><path vector-effect="non-scaling-stroke" transform="translate(74.10 0)" d="M0 -10 V0 M0 -5 H6.5 M6.5 -10 V0"/><path vector-effect="non-scaling-stroke" transform="translate(84.70 0)" d="M0 -10 V-3 Q0 0 3 0 Q6.5 0 6.5 -4 M6.5 -10 V0"/><path vector-effect="non-scaling-stroke" transform="translate(95.30 0)" d="M0 -5 H6.5 V-7 Q6.5 -10 3.5 -10 H3 Q0 -10 0 -7 V-3 Q0 0 3 0 H3.5 Q6 0 6.4 -1.6"/></g>
<g transform="translate(879.60 213.60) skewX(-15.5) scale(1.3048 1.1900)" fill="none" stroke="#000" stroke-width="2.15" stroke-linejoin="round" stroke-linecap="butt"><path vector-effect="non-scaling-stroke" transform="translate(0.00 0)" d="M0 -3 V-7 Q0 -10 3 -10 H3.5 Q6.5 -10 6.5 -7 V-3 Q6.5 0 3.5 0 H3 Q0 0 0 -3 Z M6.5 -7 V-11.8 Q6.5 -14.4 4 -14.4 H1.6"/><path vector-effect="non-scaling-stroke" transform="translate(10.60 0)" d="M0 -3 V-7 Q0 -10 3 -10 H3.5 Q6.5 -10 6.5 -7 V-3 Q6.5 0 3.5 0 H3 Q0 0 0 -3 Z"/><path vector-effect="non-scaling-stroke" transform="translate(31.00 0)" d="M0 0 V-10 H3.5 Q6.5 -10 6.5 -7 V0"/><path vector-effect="non-scaling-stroke" transform="translate(41.60 0)" d="M0 -3 V-7 Q0 -10 3 -10 H3.5 Q6.5 -10 6.5 -7 V-3 Q6.5 0 3.5 0 H3 Q0 0 0 -3 Z"/><path vector-effect="non-scaling-stroke" transform="translate(52.20 0)" d="M-0.5 0 Q0.5 0 1 -1.4 L5.5 -10 H6.8 V0"/><path vector-effect="non-scaling-stroke" transform="translate(63.40 0)" d="M6.5 -7 Q6.5 -10 3.5 -10 H3 Q0 -10 0 -7 V-3 Q0 0 3 0 H3.5 Q6.5 0 6.5 -3 M6.5 -10 V-1.2 Q6.5 0 7.3 0"/></g>
<g transform="translate(285.60 1252.00) skewX(-15.5) scale(1.3546 1.1900)" fill="none" stroke="#000" stroke-width="2.15" stroke-linejoin="round" stroke-linecap="butt"><path vector-effect="non-scaling-stroke" transform="translate(0.00 0)" d="M0 -3 V-7 Q0 -10 3 -10 H3.5 Q6.5 -10 6.5 -7 V-3 Q6.5 0 3.5 0 H3 Q0 0 0 -3 Z"/><path vector-effect="non-scaling-stroke" transform="translate(10.60 0)" d="M6.4 -8.2 Q6 -10 3.5 -10 H3 Q0 -10 0 -7 V-3 Q0 0 3 0 H3.5 Q6 0 6.4 -1.8"/><path vector-effect="non-scaling-stroke" transform="translate(20.00 0)" d="M-0.4 -10 H7.8 M3.7 -10 V0"/><path vector-effect="non-scaling-stroke" transform="translate(29.80 0)" d="M0 -5 H6.5 V-7 Q6.5 -10 3.5 -10 H3 Q0 -10 0 -7 V-3 Q0 0 3 0 H3.5 Q6 0 6.4 -1.6"/><path vector-effect="non-scaling-stroke" transform="translate(40.40 0)" d="M0 -10 V0 M7.4 -10 L0.4 -4.6 M2.4 -6.3 L7.5 0"/><path vector-effect="non-scaling-stroke" transform="translate(52.30 0)" d="M-0.5 0 Q0.5 0 1 -1.4 L5.5 -10 H6.8 V0"/><path vector-effect="non-scaling-stroke" transform="translate(63.50 0)" d="M0 -5 H6.5 V-7 Q6.5 -10 3.5 -10 H3 Q0 -10 0 -7 V-3 Q0 0 3 0 H3.5 Q6 0 6.4 -1.6"/><path vector-effect="non-scaling-stroke" transform="translate(74.10 0)" d="M0 -10 V0 M0 -5 H6.5 M6.5 -10 V0"/><path vector-effect="non-scaling-stroke" transform="translate(84.70 0)" d="M0 -10 V-3 Q0 0 3 0 Q6.5 0 6.5 -4 M6.5 -10 V0"/><path vector-effect="non-scaling-stroke" transform="translate(95.30 0)" d="M0 -5 H6.5 V-7 Q6.5 -10 3.5 -10 H3 Q0 -10 0 -7 V-3 Q0 0 3 0 H3.5 Q6 0 6.4 -1.6"/></g>
<g transform="translate(305.40 1279.00) skewX(-15.5) scale(1.3048 1.1900)" fill="none" stroke="#000" stroke-width="2.15" stroke-linejoin="round" stroke-linecap="butt"><path vector-effect="non-scaling-stroke" transform="translate(0.00 0)" d="M0 -3 V-7 Q0 -10 3 -10 H3.5 Q6.5 -10 6.5 -7 V-3 Q6.5 0 3.5 0 H3 Q0 0 0 -3 Z M6.5 -7 V-11.8 Q6.5 -14.4 4 -14.4 H1.6"/><path vector-effect="non-scaling-stroke" transform="translate(10.60 0)" d="M0 -3 V-7 Q0 -10 3 -10 H3.5 Q6.5 -10 6.5 -7 V-3 Q6.5 0 3.5 0 H3 Q0 0 0 -3 Z"/><path vector-effect="non-scaling-stroke" transform="translate(31.00 0)" d="M0 0 V-10 H3.5 Q6.5 -10 6.5 -7 V0"/><path vector-effect="non-scaling-stroke" transform="translate(41.60 0)" d="M0 -3 V-7 Q0 -10 3 -10 H3.5 Q6.5 -10 6.5 -7 V-3 Q6.5 0 3.5 0 H3 Q0 0 0 -3 Z"/><path vector-effect="non-scaling-stroke" transform="translate(52.20 0)" d="M-0.5 0 Q0.5 0 1 -1.4 L5.5 -10 H6.8 V0"/><path vector-effect="non-scaling-stroke" transform="translate(63.40 0)" d="M6.5 -7 Q6.5 -10 3.5 -10 H3 Q0 -10 0 -7 V-3 Q0 0 3 0 H3.5 Q6.5 0 6.5 -3 M6.5 -10 V-1.2 Q6.5 0 7.3 0"/></g>
<g transform="translate(832.20 1249.50) skewX(-15.5) scale(1.3546 1.1900)" fill="none" stroke="#000" stroke-width="2.15" stroke-linejoin="round" stroke-linecap="butt"><path vector-effect="non-scaling-stroke" transform="translate(0.00 0)" d="M0 -3 V-7 Q0 -10 3 -10 H3.5 Q6.5 -10 6.5 -7 V-3 Q6.5 0 3.5 0 H3 Q0 0 0 -3 Z"/><path vector-effect="non-scaling-stroke" transform="translate(10.60 0)" d="M6.4 -8.2 Q6 -10 3.5 -10 H3 Q0 -10 0 -7 V-3 Q0 0 3 0 H3.5 Q6 0 6.4 -1.8"/><path vector-effect="non-scaling-stroke" transform="translate(20.00 0)" d="M-0.4 -10 H7.8 M3.7 -10 V0"/><path vector-effect="non-scaling-stroke" transform="translate(29.80 0)" d="M0 -5 H6.5 V-7 Q6.5 -10 3.5 -10 H3 Q0 -10 0 -7 V-3 Q0 0 3 0 H3.5 Q6 0 6.4 -1.6"/><path vector-effect="non-scaling-stroke" transform="translate(40.40 0)" d="M0 -10 V0 M7.4 -10 L0.4 -4.6 M2.4 -6.3 L7.5 0"/><path vector-effect="non-scaling-stroke" transform="translate(52.30 0)" d="M-0.5 0 Q0.5 0 1 -1.4 L5.5 -10 H6.8 V0"/><path vector-effect="non-scaling-stroke" transform="translate(63.50 0)" d="M0 -5 H6.5 V-7 Q6.5 -10 3.5 -10 H3 Q0 -10 0 -7 V-3 Q0 0 3 0 H3.5 Q6 0 6.4 -1.6"/><path vector-effect="non-scaling-stroke" transform="translate(74.10 0)" d="M0 -10 V0 M0 -5 H6.5 M6.5 -10 V0"/><path vector-effect="non-scaling-stroke" transform="translate(84.70 0)" d="M0 -10 V-3 Q0 0 3 0 Q6.5 0 6.5 -4 M6.5 -10 V0"/><path vector-effect="non-scaling-stroke" transform="translate(95.30 0)" d="M0 -5 H6.5 V-7 Q6.5 -10 3.5 -10 H3 Q0 -10 0 -7 V-3 Q0 0 3 0 H3.5 Q6 0 6.4 -1.6"/></g>
<g transform="translate(852.00 1276.80) skewX(-15.5) scale(1.3048 1.1900)" fill="none" stroke="#000" stroke-width="2.15" stroke-linejoin="round" stroke-linecap="butt"><path vector-effect="non-scaling-stroke" transform="translate(0.00 0)" d="M0 -3 V-7 Q0 -10 3 -10 H3.5 Q6.5 -10 6.5 -7 V-3 Q6.5 0 3.5 0 H3 Q0 0 0 -3 Z M6.5 -7 V-11.8 Q6.5 -14.4 4 -14.4 H1.6"/><path vector-effect="non-scaling-stroke" transform="translate(10.60 0)" d="M0 -3 V-7 Q0 -10 3 -10 H3.5 Q6.5 -10 6.5 -7 V-3 Q6.5 0 3.5 0 H3 Q0 0 0 -3 Z"/><path vector-effect="non-scaling-stroke" transform="translate(31.00 0)" d="M0 0 V-10 H3.5 Q6.5 -10 6.5 -7 V0"/><path vector-effect="non-scaling-stroke" transform="translate(41.60 0)" d="M0 -3 V-7 Q0 -10 3 -10 H3.5 Q6.5 -10 6.5 -7 V-3 Q6.5 0 3.5 0 H3 Q0 0 0 -3 Z"/><path vector-effect="non-scaling-stroke" transform="translate(52.20 0)" d="M-0.5 0 Q0.5 0 1 -1.4 L5.5 -10 H6.8 V0"/><path vector-effect="non-scaling-stroke" transform="translate(63.40 0)" d="M6.5 -7 Q6.5 -10 3.5 -10 H3 Q0 -10 0 -7 V-3 Q0 0 3 0 H3.5 Q6.5 0 6.5 -3 M6.5 -10 V-1.2 Q6.5 0 7.3 0"/></g>
<g transform="translate(1226.20 1102.00) skewX(-15.5) scale(1.3546 1.1900)" fill="none" stroke="#000" stroke-width="2.15" stroke-linejoin="round" stroke-linecap="butt"><path vector-effect="non-scaling-stroke" transform="translate(0.00 0)" d="M0 -3 V-7 Q0 -10 3 -10 H3.5 Q6.5 -10 6.5 -7 V-3 Q6.5 0 3.5 0 H3 Q0 0 0 -3 Z"/><path vector-effect="non-scaling-stroke" transform="translate(10.60 0)" d="M6.4 -8.2 Q6 -10 3.5 -10 H3 Q0 -10 0 -7 V-3 Q0 0 3 0 H3.5 Q6 0 6.4 -1.8"/><path vector-effect="non-scaling-stroke" transform="translate(20.00 0)" d="M-0.4 -10 H7.8 M3.7 -10 V0"/><path vector-effect="non-scaling-stroke" transform="translate(29.80 0)" d="M0 -5 H6.5 V-7 Q6.5 -10 3.5 -10 H3 Q0 -10 0 -7 V-3 Q0 0 3 0 H3.5 Q6 0 6.4 -1.6"/><path vector-effect="non-scaling-stroke" transform="translate(40.40 0)" d="M0 -10 V0 M7.4 -10 L0.4 -4.6 M2.4 -6.3 L7.5 0"/><path vector-effect="non-scaling-stroke" transform="translate(52.30 0)" d="M-0.5 0 Q0.5 0 1 -1.4 L5.5 -10 H6.8 V0"/><path vector-effect="non-scaling-stroke" transform="translate(63.50 0)" d="M0 -5 H6.5 V-7 Q6.5 -10 3.5 -10 H3 Q0 -10 0 -7 V-3 Q0 0 3 0 H3.5 Q6 0 6.4 -1.6"/><path vector-effect="non-scaling-stroke" transform="translate(74.10 0)" d="M0 -10 V0 M0 -5 H6.5 M6.5 -10 V0"/><path vector-effect="non-scaling-stroke" transform="translate(84.70 0)" d="M0 -10 V-3 Q0 0 3 0 Q6.5 0 6.5 -4 M6.5 -10 V0"/><path vector-effect="non-scaling-stroke" transform="translate(95.30 0)" d="M0 -5 H6.5 V-7 Q6.5 -10 3.5 -10 H3 Q0 -10 0 -7 V-3 Q0 0 3 0 H3.5 Q6 0 6.4 -1.6"/></g>
<g transform="translate(1245.90 1128.50) skewX(-15.5) scale(1.3048 1.1900)" fill="none" stroke="#000" stroke-width="2.15" stroke-linejoin="round" stroke-linecap="butt"><path vector-effect="non-scaling-stroke" transform="translate(0.00 0)" d="M0 -3 V-7 Q0 -10 3 -10 H3.5 Q6.5 -10 6.5 -7 V-3 Q6.5 0 3.5 0 H3 Q0 0 0 -3 Z M6.5 -7 V-11.8 Q6.5 -14.4 4 -14.4 H1.6"/><path vector-effect="non-scaling-stroke" transform="translate(10.60 0)" d="M0 -3 V-7 Q0 -10 3 -10 H3.5 Q6.5 -10 6.5 -7 V-3 Q6.5 0 3.5 0 H3 Q0 0 0 -3 Z"/><path vector-effect="non-scaling-stroke" transform="translate(31.00 0)" d="M0 0 V-10 H3.5 Q6.5 -10 6.5 -7 V0"/><path vector-effect="non-scaling-stroke" transform="translate(41.60 0)" d="M0 -3 V-7 Q0 -10 3 -10 H3.5 Q6.5 -10 6.5 -7 V-3 Q6.5 0 3.5 0 H3 Q0 0 0 -3 Z"/><path vector-effect="non-scaling-stroke" transform="translate(52.20 0)" d="M-0.5 0 Q0.5 0 1 -1.4 L5.5 -10 H6.8 V0"/><path vector-effect="non-scaling-stroke" transform="translate(63.40 0)" d="M6.5 -7 Q6.5 -10 3.5 -10 H3 Q0 -10 0 -7 V-3 Q0 0 3 0 H3.5 Q6.5 0 6.5 -3 M6.5 -10 V-1.2 Q6.5 0 7.3 0"/></g>
<g transform="translate(455.90 210.90) skewX(-15.5) scale(1.2875 1.1900)" fill="none" stroke="#000" stroke-width="2.15" stroke-linejoin="round" stroke-linecap="butt"><path vector-effect="non-scaling-stroke" transform="translate(0.00 0)" d="M0 -3 V-7 Q0 -10 3 -10 H3.5 Q6.5 -10 6.5 -7 V-3 Q6.5 0 3.5 0 H3 Q0 0 0 -3 Z"/><path vector-effect="non-scaling-stroke" transform="translate(10.60 0)" d="M0 -10 V0 M7.4 -10 L0.4 -4.6 M2.4 -6.3 L7.5 0"/><path vector-effect="non-scaling-stroke" transform="translate(22.50 0)" d="M0 -10 V0 M0 -5 H6.5 M6.5 -10 V0"/><path vector-effect="non-scaling-stroke" transform="translate(33.10 0)" d="M0 -3 V-7 Q0 -10 3 -10 H3.5 Q6.5 -10 6.5 -7 V-3 Q6.5 0 3.5 0 H3 Q0 0 0 -3 Z"/><path vector-effect="non-scaling-stroke" transform="translate(53.50 0)" d="M0 0 V-11.4 Q0 -14.6 2.9 -14.6 Q5.8 -14.6 5.8 -11.6 Q5.8 -8.6 2.8 -8.2 Q6.5 -7.8 6.5 -4 Q6.5 0 3 0 H0"/><path vector-effect="non-scaling-stroke" transform="translate(73.90 0)" d="M0 0 V-10 H3.5 Q6.5 -10 6.5 -7 V0"/><path vector-effect="non-scaling-stroke" transform="translate(84.50 0)" d="M0 -3 V-7 Q0 -10 3 -10 H3.5 Q6.5 -10 6.5 -7 V-3 Q6.5 0 3.5 0 H3 Q0 0 0 -3 Z"/><path vector-effect="non-scaling-stroke" transform="translate(95.10 0)" d="M-0.5 0 Q0.5 0 1 -1.4 L5.5 -10 H6.8 V0"/></g>
<g transform="translate(666.30 210.90) skewX(-15.5) scale(1.2875 1.1900)" fill="none" stroke="#000" stroke-width="2.15" stroke-linejoin="round" stroke-linecap="butt"><path vector-effect="non-scaling-stroke" transform="translate(0.00 0)" d="M0 -3 V-7 Q0 -10 3 -10 H3.5 Q6.5 -10 6.5 -7 V-3 Q6.5 0 3.5 0 H3 Q0 0 0 -3 Z"/><path vector-effect="non-scaling-stroke" transform="translate(10.60 0)" d="M0 -10 V0 M7.4 -10 L0.4 -4.6 M2.4 -6.3 L7.5 0"/><path vector-effect="non-scaling-stroke" transform="translate(22.50 0)" d="M0 -10 V0 M0 -5 H6.5 M6.5 -10 V0"/><path vector-effect="non-scaling-stroke" transform="translate(33.10 0)" d="M0 -3 V-7 Q0 -10 3 -10 H3.5 Q6.5 -10 6.5 -7 V-3 Q6.5 0 3.5 0 H3 Q0 0 0 -3 Z"/><path vector-effect="non-scaling-stroke" transform="translate(53.50 0)" d="M0 0 V-11.4 Q0 -14.6 2.9 -14.6 Q5.8 -14.6 5.8 -11.6 Q5.8 -8.6 2.8 -8.2 Q6.5 -7.8 6.5 -4 Q6.5 0 3 0 H0"/><path vector-effect="non-scaling-stroke" transform="translate(73.90 0)" d="M0 0 V-10 H3.5 Q6.5 -10 6.5 -7 V0"/><path vector-effect="non-scaling-stroke" transform="translate(84.50 0)" d="M0 -3 V-7 Q0 -10 3 -10 H3.5 Q6.5 -10 6.5 -7 V-3 Q6.5 0 3.5 0 H3 Q0 0 0 -3 Z"/><path vector-effect="non-scaling-stroke" transform="translate(95.10 0)" d="M-0.5 0 Q0.5 0 1 -1.4 L5.5 -10 H6.8 V0"/></g>
<g transform="translate(1095.80 1417.80) skewX(-15.5) scale(1.0774 0.9800)" fill="none" stroke="#000" stroke-width="1.7" stroke-linejoin="round" stroke-linecap="butt"><path vector-effect="non-scaling-stroke" transform="translate(0.00 0)" d="M0 -3 V-7 Q0 -10 3 -10 H3.5 Q6.5 -10 6.5 -7 V-3 Q6.5 0 3.5 0 H3 Q0 0 0 -3 Z"/><path vector-effect="non-scaling-stroke" transform="translate(10.60 0)" d="M6.4 -8.2 Q6 -10 3.5 -10 H3 Q0 -10 0 -7 V-3 Q0 0 3 0 H3.5 Q6 0 6.4 -1.8"/><path vector-effect="non-scaling-stroke" transform="translate(20.00 0)" d="M-0.4 -10 H7.8 M3.7 -10 V0"/><path vector-effect="non-scaling-stroke" transform="translate(29.80 0)" d="M0 -5 H6.5 V-7 Q6.5 -10 3.5 -10 H3 Q0 -10 0 -7 V-3 Q0 0 3 0 H3.5 Q6 0 6.4 -1.6"/><path vector-effect="non-scaling-stroke" transform="translate(40.40 0)" d="M0 -10 V0 M7.4 -10 L0.4 -4.6 M2.4 -6.3 L7.5 0"/><path vector-effect="non-scaling-stroke" transform="translate(52.30 0)" d="M-0.5 0 Q0.5 0 1 -1.4 L5.5 -10 H6.8 V0"/><path vector-effect="non-scaling-stroke" transform="translate(63.50 0)" d="M0 -5 H6.5 V-7 Q6.5 -10 3.5 -10 H3 Q0 -10 0 -7 V-3 Q0 0 3 0 H3.5 Q6 0 6.4 -1.6"/><path vector-effect="non-scaling-stroke" transform="translate(74.10 0)" d="M0 -10 V0 M0 -5 H6.5 M6.5 -10 V0"/><path vector-effect="non-scaling-stroke" transform="translate(84.70 0)" d="M0 -10 V-3 Q0 0 3 0 Q6.5 0 6.5 -4 M6.5 -10 V0"/><path vector-effect="non-scaling-stroke" transform="translate(95.30 0)" d="M0 -5 H6.5 V-7 Q6.5 -10 3.5 -10 H3 Q0 -10 0 -7 V-3 Q0 0 3 0 H3.5 Q6 0 6.4 -1.6"/></g>
<g transform="translate(1111.80 1438.40) skewX(-15.5) scale(1.0541 0.9800)" fill="none" stroke="#000" stroke-width="1.7" stroke-linejoin="round" stroke-linecap="butt"><path vector-effect="non-scaling-stroke" transform="translate(0.00 0)" d="M0 -3 V-7 Q0 -10 3 -10 H3.5 Q6.5 -10 6.5 -7 V-3 Q6.5 0 3.5 0 H3 Q0 0 0 -3 Z M6.5 -7 V-11.8 Q6.5 -14.4 4 -14.4 H1.6"/><path vector-effect="non-scaling-stroke" transform="translate(10.60 0)" d="M0 -3 V-7 Q0 -10 3 -10 H3.5 Q6.5 -10 6.5 -7 V-3 Q6.5 0 3.5 0 H3 Q0 0 0 -3 Z"/><path vector-effect="non-scaling-stroke" transform="translate(31.00 0)" d="M0 0 V-10 H3.5 Q6.5 -10 6.5 -7 V0"/><path vector-effect="non-scaling-stroke" transform="translate(41.60 0)" d="M0 -3 V-7 Q0 -10 3 -10 H3.5 Q6.5 -10 6.5 -7 V-3 Q6.5 0 3.5 0 H3 Q0 0 0 -3 Z"/><path vector-effect="non-scaling-stroke" transform="translate(52.20 0)" d="M-0.5 0 Q0.5 0 1 -1.4 L5.5 -10 H6.8 V0"/><path vector-effect="non-scaling-stroke" transform="translate(63.40 0)" d="M6.5 -7 Q6.5 -10 3.5 -10 H3 Q0 -10 0 -7 V-3 Q0 0 3 0 H3.5 Q6.5 0 6.5 -3 M6.5 -10 V-1.2 Q6.5 0 7.3 0"/></g>
<g transform="translate(1278.20 1419.70) skewX(-15.5) scale(1.0451 0.9800)" fill="none" stroke="#000" stroke-width="1.7" stroke-linejoin="round" stroke-linecap="butt"><path vector-effect="non-scaling-stroke" transform="translate(0.00 0)" d="M0 -3 V-7 Q0 -10 3 -10 H3.5 Q6.5 -10 6.5 -7 V-3 Q6.5 0 3.5 0 H3 Q0 0 0 -3 Z"/><path vector-effect="non-scaling-stroke" transform="translate(10.60 0)" d="M0 -10 V0 M7.4 -10 L0.4 -4.6 M2.4 -6.3 L7.5 0"/><path vector-effect="non-scaling-stroke" transform="translate(22.50 0)" d="M0 -10 V0 M0 -5 H6.5 M6.5 -10 V0"/><path vector-effect="non-scaling-stroke" transform="translate(33.10 0)" d="M0 -3 V-7 Q0 -10 3 -10 H3.5 Q6.5 -10 6.5 -7 V-3 Q6.5 0 3.5 0 H3 Q0 0 0 -3 Z"/><path vector-effect="non-scaling-stroke" transform="translate(53.50 0)" d="M0 0 V-11.4 Q0 -14.6 2.9 -14.6 Q5.8 -14.6 5.8 -11.6 Q5.8 -8.6 2.8 -8.2 Q6.5 -7.8 6.5 -4 Q6.5 0 3 0 H0"/><path vector-effect="non-scaling-stroke" transform="translate(73.90 0)" d="M0 0 V-10 H3.5 Q6.5 -10 6.5 -7 V0"/><path vector-effect="non-scaling-stroke" transform="translate(84.50 0)" d="M0 -3 V-7 Q0 -10 3 -10 H3.5 Q6.5 -10 6.5 -7 V-3 Q6.5 0 3.5 0 H3 Q0 0 0 -3 Z"/><path vector-effect="non-scaling-stroke" transform="translate(95.10 0)" d="M-0.5 0 Q0.5 0 1 -1.4 L5.5 -10 H6.8 V0"/></g>
<g transform="translate(710.20 795.20) skewX(-15.5) scale(1.4000 1.2900)" fill="none" stroke="#000" stroke-width="1.8" stroke-linejoin="round" stroke-linecap="butt"><path vector-effect="non-scaling-stroke" transform="translate(0.00 0)" d="M5.6 -9.4 V-11 Q5.6 -14 2.8 -14 Q0 -14 0 -11 V-9.6 Q0 -6.8 2.8 -6.8 H5.6 M5.6 -11 V-4.4 Q5.6 0 2 0 H0.2"/><path vector-effect="non-scaling-stroke" transform="translate(9.54 0)" d="M1.6 -1.6 V0"/><path vector-effect="non-scaling-stroke" transform="translate(14.31 0)" d="M0 -14 H5.8 L3 0 M2.2 -7 H6.4"/><path vector-effect="non-scaling-stroke" transform="translate(23.85 0)" d="M0.5 -7 A2.35 7 0 1 1 5.2 -7 A2.35 7 0 1 1 0.5 -7 Z"/></g>
<line x1="702.80" y1="804.20" x2="752.30" y2="804.20" stroke="#000" stroke-width="2.0" />
<g transform="translate(488.80 945.80) skewX(-15.5) scale(1.4000 1.2900)" fill="none" stroke="#000" stroke-width="1.8" stroke-linejoin="round" stroke-linecap="butt"><path vector-effect="non-scaling-stroke" transform="translate(0.00 0)" d="M0.8 -14 H3.6 Q5.8 -14 5.8 -11.8 V-9.8 Q5.8 -7.5 3.6 -7.5 H2.4 M3.6 -7.5 Q5.8 -7.5 5.8 -5.2 V-2.4 Q5.8 0 3.4 0 H0"/><path vector-effect="non-scaling-stroke" transform="translate(9.54 0)" d="M1.6 -1.6 V0"/><path vector-effect="non-scaling-stroke" transform="translate(14.31 0)" d="M6 -14 H1.2 L0.9 -8.2 H3.4 Q5.8 -8.2 5.8 -5.8 V-2.4 Q5.8 0 3.4 0 H0"/><path vector-effect="non-scaling-stroke" transform="translate(23.85 0)" d="M4.1 -14 L0 -3.4 H8.4 M5.7 -7.2 V0"/></g>
<line x1="483.30" y1="955.10" x2="535.40" y2="955.10" stroke="#000" stroke-width="2.0" />
<g transform="translate(737.20 942.80) skewX(-15.5) scale(1.4000 1.2900)" fill="none" stroke="#000" stroke-width="1.8" stroke-linejoin="round" stroke-linecap="butt"><path vector-effect="non-scaling-stroke" transform="translate(0.00 0)" d="M4.1 -14 L0 -3.4 H8.4 M5.7 -7.2 V0"/><path vector-effect="non-scaling-stroke" transform="translate(11.40 0)" d="M1.6 -1.6 V0"/><path vector-effect="non-scaling-stroke" transform="translate(16.17 0)" d="M0.8 -14 H3.6 Q5.8 -14 5.8 -11.8 V-9.8 Q5.8 -7.5 3.6 -7.5 H2.4 M3.6 -7.5 Q5.8 -7.5 5.8 -5.2 V-2.4 Q5.8 0 3.4 0 H0"/><path vector-effect="non-scaling-stroke" transform="translate(25.71 0)" d="M0.5 -7 A2.35 7 0 1 1 5.2 -7 A2.35 7 0 1 1 0.5 -7 Z"/></g>
<line x1="732.20" y1="952.00" x2="783.50" y2="952.00" stroke="#000" stroke-width="2.0" />
<g transform="translate(717.20 1145.20) skewX(-15.5) scale(1.4000 1.2900)" fill="none" stroke="#000" stroke-width="1.8" stroke-linejoin="round" stroke-linecap="butt"><path vector-effect="non-scaling-stroke" transform="translate(0.00 0)" d="M0.7 -10.6 L4 -14 V0"/><path vector-effect="non-scaling-stroke" transform="translate(8.10 0)" d="M0.8 -14 H3.6 Q5.8 -14 5.8 -11.8 V-9.8 Q5.8 -7.5 3.6 -7.5 H2.4 M3.6 -7.5 Q5.8 -7.5 5.8 -5.2 V-2.4 Q5.8 0 3.4 0 H0"/><path vector-effect="non-scaling-stroke" transform="translate(17.64 0)" d="M1.6 -1.6 V0"/><path vector-effect="non-scaling-stroke" transform="translate(22.41 0)" d="M0 -14 H5.8 L3 0 M2.2 -7 H6.4"/><path vector-effect="non-scaling-stroke" transform="translate(31.95 0)" d="M0.7 -10.6 L4 -14 V0"/></g>
<line x1="712.30" y1="1154.10" x2="768.80" y2="1154.10" stroke="#000" stroke-width="2.0" />
<defs>
<linearGradient id="gl" gradientUnits="userSpaceOnUse" x1="0" y1="1206" x2="0" y2="1393">
<stop offset="0" stop-color="#b6ffea"/><stop offset="0.25" stop-color="#93ecd8"/><stop offset="0.5" stop-color="#55c2bd"/><stop offset="0.62" stop-color="#2fa3a9"/><stop offset="0.8" stop-color="#167e9b"/><stop offset="1" stop-color="#0b5a8d"/>
</linearGradient></defs>
<rect x="1050" y="1201.4" width="203.9" height="196.4" fill="#2e3a3a"/>
<rect x="1054.8" y="1207.5" width="61.5" height="98.6" fill="url(#gl)" stroke="#000" stroke-width="1"/>
<rect x="1054.8" y="1312.8" width="61.5" height="79.6" fill="url(#gl)" stroke="#000" stroke-width="1"/>
<rect x="1123" y="1207.5" width="58.0" height="98.6" fill="url(#gl)"/>
<rect x="1123" y="1312.8" width="58.0" height="79.6" fill="url(#gl)"/>
<rect x="1187.7" y="1207.5" width="60.9" height="98.6" fill="url(#gl)"/>
<rect x="1187.7" y="1312.8" width="60.9" height="79.6" fill="url(#gl)"/>
<rect x="1262" y="1199.2" width="142.9" height="198.6" fill="#2e3a3a"/>
<rect x="1267.3" y="1206" width="62" height="99.6" fill="url(#gl)"/>
<rect x="1336" y="1206" width="62.7" height="99.6" fill="url(#gl)"/>
<rect x="1262" y="1305.6" width="142.9" height="92.2" fill="#0a0a0a"/>
<rect x="1269.2" y="1311.5" width="5.3" height="80.9" fill="url(#gl)"/>
<rect x="1281.2" y="1311.5" width="12.0" height="80.9" fill="url(#gl)"/>
<rect x="1299.9" y="1311.5" width="11.2" height="80.9" fill="url(#gl)"/>
<rect x="1318" y="1311.5" width="11.3" height="80.9" fill="url(#gl)"/>
<rect x="1336" y="1311.5" width="11.4" height="80.9" fill="url(#gl)"/>
<rect x="1354.1" y="1311.5" width="12.0" height="80.9" fill="url(#gl)"/>
<rect x="1372.8" y="1311.5" width="11.2" height="80.9" fill="url(#gl)"/>
<rect x="1390.7" y="1311.5" width="7.5" height="80.9" fill="url(#gl)"/>
<g transform="translate(535.80 1295.00) skewX(-15.5) scale(0.8706 0.7200)" fill="none" stroke="#111" stroke-width="1.5" stroke-linejoin="round" stroke-linecap="butt"><path vector-effect="non-scaling-stroke" transform="translate(0.00 0)" d="M6.6 -12.4 Q6.2 -14.6 3.5 -14.6 H3 Q0 -14.6 0 -11.6 V-3 Q0 0 3 0 H3.5 Q6 0 6.4 -2"/><path vector-effect="non-scaling-stroke" transform="translate(10.60 0)" d="M0 -10 L6.5 0 M6.5 -10 L0 0"/><path vector-effect="non-scaling-stroke" transform="translate(20.80 0)" d="M0 -5 H6.5 V-7 Q6.5 -10 3.5 -10 H3 Q0 -10 0 -7 V-3 Q0 0 3 0 H3.5 Q6 0 6.4 -1.6"/><path vector-effect="non-scaling-stroke" transform="translate(31.40 0)" d="M0 0 V-10 L3.7 -3.2 L7.4 -10 V0"/><path vector-effect="non-scaling-stroke" transform="translate(43.00 0)" d="M6.5 -7 Q6.5 -10 3.5 -10 H3 Q0 -10 0 -7 V-3 Q0 0 3 0 H3.5 Q6.5 0 6.5 -3 M6.5 -10 V-1.2 Q6.5 0 7.3 0"/><path vector-effect="non-scaling-stroke" transform="translate(63.80 0)" d="M6.4 -14.4 H3 Q0 -14.4 0 -11.4 V-3 Q0 0 3 0 H3.5 Q6.5 0 6.5 -3 V-6 Q6.5 -9 3.5 -9 H3 Q0 -9 0 -6"/><path vector-effect="non-scaling-stroke" transform="translate(74.40 0)" d="M-0.5 0 Q0.5 0 1 -1.4 L5.5 -10 H6.8 V0"/><path vector-effect="non-scaling-stroke" transform="translate(85.60 0)" d="M0 -3 V-7 Q0 -10 3 -10 H3.5 Q6.5 -10 6.5 -7 V-3 Q6.5 0 3.5 0 H3 Q0 0 0 -3 Z"/><path vector-effect="non-scaling-stroke" transform="translate(96.20 0)" d="M0 -10 V0 M7.4 -10 L0.4 -4.6 M2.4 -6.3 L7.5 0"/><path vector-effect="non-scaling-stroke" transform="translate(108.10 0)" d="M0 -10 V-3 Q0 0 3 0 Q6.5 0 6.5 -4 M6.5 -10 V0"/><path vector-effect="non-scaling-stroke" transform="translate(118.70 0)" d="M0 4.6 V-10 H3.5 Q6.5 -10 6.5 -7 V-3 Q6.5 0 3.5 0 H0"/><path vector-effect="non-scaling-stroke" transform="translate(129.30 0)" d="M0 -3 V-7 Q0 -10 3 -10 H3.5 Q6.5 -10 6.5 -7 V-3 Q6.5 0 3.5 0 H3 Q0 0 0 -3 Z"/><path vector-effect="non-scaling-stroke" transform="translate(139.90 0)" d="M0 0 V-11.4 Q0 -14.6 2.9 -14.6 Q5.8 -14.6 5.8 -11.6 Q5.8 -8.6 2.8 -8.2 Q6.5 -7.8 6.5 -4 Q6.5 0 3 0 H0"/><path vector-effect="non-scaling-stroke" transform="translate(150.50 0)" d="M0 -10 V0 M7.4 -10 L0.4 -4.6 M2.4 -6.3 L7.5 0"/><path vector-effect="non-scaling-stroke" transform="translate(162.40 0)" d="M0 -10 V-3 Q0 0 3 0 Q6.5 0 6.5 -4 M6.5 -10 V0"/></g>
<clipPath id="hc"><path d="M610.2 1335.8 H650 V1323.3 H698.8 V1335.8 H758.4 V1408 H738 V1425.6 H693.7 V1430.6 H654.5 V1425.6 H610.2 Z"/></clipPath>
<g clip-path="url(#hc)" stroke="#111" stroke-width="1.9"><line x1="522.8" y1="1440" x2="652.8" y2="1310"/><line x1="543.0" y1="1440" x2="673.0" y2="1310"/><line x1="563.2" y1="1440" x2="693.2" y2="1310"/><line x1="583.4" y1="1440" x2="713.4" y2="1310"/><line x1="603.6" y1="1440" x2="733.6" y2="1310"/><line x1="623.8" y1="1440" x2="753.8" y2="1310"/><line x1="644.0" y1="1440" x2="774.0" y2="1310"/><line x1="664.2" y1="1440" x2="794.2" y2="1310"/><line x1="684.4" y1="1440" x2="814.4" y2="1310"/><line x1="704.6" y1="1440" x2="834.6" y2="1310"/><line x1="724.8" y1="1440" x2="854.8" y2="1310"/><line x1="745.0" y1="1440" x2="875.0" y2="1310"/></g>
<rect x="653.4" y="1357.5" width="68" height="19.5" fill="#fff"/>
<path d="M502.2 1334 V1324.4 H522.1" fill="none" stroke="#111" stroke-width="2.3" stroke-linejoin="miter" />
<path d="M573.8 1334 V1324.4 H648.8 V1334 M590.8 1324.4 V1334 M630.1 1324.4 V1334" fill="none" stroke="#111" stroke-width="2.3" stroke-linejoin="miter" />
<path d="M701.1 1334 V1324.4 H718.1 V1334" fill="none" stroke="#111" stroke-width="2.3" stroke-linejoin="miter" />
<path d="M461.9 1420.4 V1335.8 H522.1 V1323.3 H571.5 V1335.8 H650 V1323.3 H698.8 V1335.8 H758.4 V1408.5" fill="none" stroke="#111" stroke-width="3.2" stroke-linejoin="miter" />
<path d="M610.2 1322.7 V1425.6" fill="none" stroke="#111" stroke-width="2.8" stroke-linejoin="miter" />
<path d="M461.9 1406.7 H481.8 V1425.6 H527.2 M565.8 1425.6 H654.5 M693.7 1425.6 H738 V1407.9 H758.4" fill="none" stroke="#111" stroke-width="3.2" stroke-linejoin="miter" />
<path d="M461.9 1420.4 H481.8" fill="none" stroke="#111" stroke-width="1.8" stroke-linejoin="miter" />
<path d="M738 1418.7 H757.8 V1408" fill="none" stroke="#111" stroke-width="1.8" stroke-linejoin="miter" />
<path d="M740.5 1420.5 H748 V1430 H740.5 Z" fill="none" stroke="#111" stroke-width="1.4" stroke-linejoin="miter" />
<rect x="527.2" y="1319.3" width="6.3" height="3.6" fill="#111"/>
<rect x="535.7" y="1319.3" width="6.3" height="3.6" fill="#111"/>
<rect x="551.6" y="1319.3" width="5.7" height="3.6" fill="#111"/>
<rect x="559.6" y="1319.3" width="6.2" height="3.6" fill="#111"/>
<rect x="655.1" y="1319.3" width="6.2" height="3.6" fill="#111"/>
<rect x="663.6" y="1319.3" width="5.7" height="3.6" fill="#111"/>
<rect x="679.5" y="1319.3" width="5.1" height="3.6" fill="#111"/>
<rect x="687.4" y="1319.3" width="5.7" height="3.6" fill="#111"/>
<rect x="491.4" y="1330.7" width="6.3" height="3.6" fill="#111"/>
<rect x="724.3" y="1330.9" width="6.3" height="3.6" fill="#111"/>
<rect x="487.5" y="1427" width="6.2" height="3.6" fill="#111"/>
<rect x="614.8" y="1427" width="6.2" height="3.6" fill="#111"/>
<rect x="495.4" y="1427" width="6.3" height="3.6" fill="#111"/>
<rect x="622.7" y="1427" width="6.3" height="3.6" fill="#111"/>
<rect x="590.8" y="1427" width="5.7" height="3.6" fill="#111"/>
<rect x="718.1" y="1427" width="5.7" height="3.6" fill="#111"/>
<rect x="599.9" y="1427" width="5.7" height="3.6" fill="#111"/>
<rect x="727.2" y="1427" width="5.7" height="3.6" fill="#111"/>
<rect x="527.2" y="1390.3" width="38.6" height="40.3" fill="#fff" stroke="#111" stroke-width="2.0"/>
<rect x="654.5" y="1390.3" width="39.2" height="40.3" fill="none" stroke="#111" stroke-width="1.2"/>
<g id="porch" fill="none" stroke="#111">
<path d="M506.2 1425.6 V1460.1 H538.6 V1431" stroke-width="2.6"/>
<path d="M506.2 1443 H538.6 M506.2 1445.4 H538.6" stroke-width="0.9"/>
<path d="M509.2 1425.6 V1429 A7.3 8.6 0 0 0 523.8 1429 V1425.6" stroke-width="1.5"/>
<path d="M524.6 1425.6 V1444" stroke-width="1.4"/>
<path d="M522 1425.6 H527.2 V1431" stroke-width="2.4"/>
<path d="M537 1432.3 H568.7 V1444.2 H538.6" stroke-width="3"/>
<rect x="560.7" y="1439.3" width="3" height="4" fill="#111" stroke="none"/>
<rect x="506.5" y="1457.3" width="3" height="3" fill="#111" stroke="none"/>
<rect x="535.6" y="1457.3" width="3" height="3" fill="#111" stroke="none"/>
<path d="M538.6 1446.5 H549 M538.6 1449.9 H549 M538.6 1453.3 H549 M538.6 1456.7 H550 M538.6 1458.2 H549 M548.2 1446.5 V1458" stroke-width="1"/>
<path d="M570.4 1431.7 A8.5 7 0 0 0 587.4 1428.5 V1425.6" stroke-width="1.5"/>
<path d="M570.4 1427.8 H578.3 V1431.7 H570.4" stroke-width="1.3"/>
</g>
<use href="#porch" x="127.3" y="0"/>
<g transform="translate(512.40 1369.20) skewX(0) scale(0.6744 0.6200)" fill="none" stroke="#1a1a1a" stroke-width="1.4" stroke-linejoin="round" stroke-linecap="butt"><path vector-effect="non-scaling-stroke" transform="translate(0.00 0)" d="M0.7 -10.6 L4 -14 V0"/><path vector-effect="non-scaling-stroke" transform="translate(15.60 0)" d="M0 0 V-10 H3.5 Q6.5 -10 6.5 -7 V0"/><path vector-effect="non-scaling-stroke" transform="translate(26.20 0)" d="M0 -3 V-7 Q0 -10 3 -10 H3.5 Q6.5 -10 6.5 -7 V-3 Q6.5 0 3.5 0 H3 Q0 0 0 -3 Z"/><path vector-effect="non-scaling-stroke" transform="translate(36.80 0)" d="M0 -3 V-7 Q0 -10 3 -10 H3.5 Q6.5 -10 6.5 -7 V-3 Q6.5 0 3.5 0 H3 Q0 0 0 -3 Z M6.5 -7 V-11.8 Q6.5 -14.4 4 -14.4 H1.6"/><path vector-effect="non-scaling-stroke" transform="translate(47.40 0)" d="M-1.8 -10 H1.4 V0 H3.8 Q6.6 0 6.6 -2.8 Q6.6 -5.6 3.8 -5.6 H1.4"/><path vector-effect="non-scaling-stroke" transform="translate(58.40 0)" d="M0 -5 H6.5 V-7 Q6.5 -10 3.5 -10 H3 Q0 -10 0 -7 V-3 Q0 0 3 0 H3.5 Q6 0 6.4 -1.6"/><path vector-effect="non-scaling-stroke" transform="translate(69.00 0)" d="M0.3 -8.3 Q0.7 -10 3.2 -10 Q6 -10 6 -7.6 Q6 -5.3 3.4 -5.3 H2.2 M3.4 -5.3 Q6.4 -5.3 6.4 -2.8 Q6.4 0 3.3 0 Q0.4 0 0 -1.8"/><path vector-effect="non-scaling-stroke" transform="translate(79.20 0)" d="M0 -3 V-7 Q0 -10 3 -10 H3.5 Q6.5 -10 6.5 -7 V-3 Q6.5 0 3.5 0 H3 Q0 0 0 -3 Z M6.5 -7 V-11.8 Q6.5 -14.4 4 -14.4 H1.6"/></g>
<g transform="translate(656.90 1369.20) skewX(0) scale(0.6930 0.6200)" fill="none" stroke="#1a1a1a" stroke-width="1.4" stroke-linejoin="round" stroke-linecap="butt"><path vector-effect="non-scaling-stroke" transform="translate(0.00 0)" d="M0.2 -11.2 Q0.4 -14 3 -14 Q5.8 -14 5.8 -11.2 Q5.8 -9 4.2 -7 L0 0 H6.2"/><path vector-effect="non-scaling-stroke" transform="translate(17.04 0)" d="M0 0 V-10 H3.5 Q6.5 -10 6.5 -7 V0"/><path vector-effect="non-scaling-stroke" transform="translate(27.64 0)" d="M0 -3 V-7 Q0 -10 3 -10 H3.5 Q6.5 -10 6.5 -7 V-3 Q6.5 0 3.5 0 H3 Q0 0 0 -3 Z"/><path vector-effect="non-scaling-stroke" transform="translate(38.24 0)" d="M0 -3 V-7 Q0 -10 3 -10 H3.5 Q6.5 -10 6.5 -7 V-3 Q6.5 0 3.5 0 H3 Q0 0 0 -3 Z M6.5 -7 V-11.8 Q6.5 -14.4 4 -14.4 H1.6"/><path vector-effect="non-scaling-stroke" transform="translate(48.84 0)" d="M-1.8 -10 H1.4 V0 H3.8 Q6.6 0 6.6 -2.8 Q6.6 -5.6 3.8 -5.6 H1.4"/><path vector-effect="non-scaling-stroke" transform="translate(59.84 0)" d="M0 -5 H6.5 V-7 Q6.5 -10 3.5 -10 H3 Q0 -10 0 -7 V-3 Q0 0 3 0 H3.5 Q6 0 6.4 -1.6"/><path vector-effect="non-scaling-stroke" transform="translate(70.44 0)" d="M0.3 -8.3 Q0.7 -10 3.2 -10 Q6 -10 6 -7.6 Q6 -5.3 3.4 -5.3 H2.2 M3.4 -5.3 Q6.4 -5.3 6.4 -2.8 Q6.4 0 3.3 0 Q0.4 0 0 -1.8"/><path vector-effect="non-scaling-stroke" transform="translate(80.64 0)" d="M0 -3 V-7 Q0 -10 3 -10 H3.5 Q6.5 -10 6.5 -7 V-3 Q6.5 0 3.5 0 H3 Q0 0 0 -3 Z M6.5 -7 V-11.8 Q6.5 -14.4 4 -14.4 H1.6"/></g>
</svg>
</body></html>
